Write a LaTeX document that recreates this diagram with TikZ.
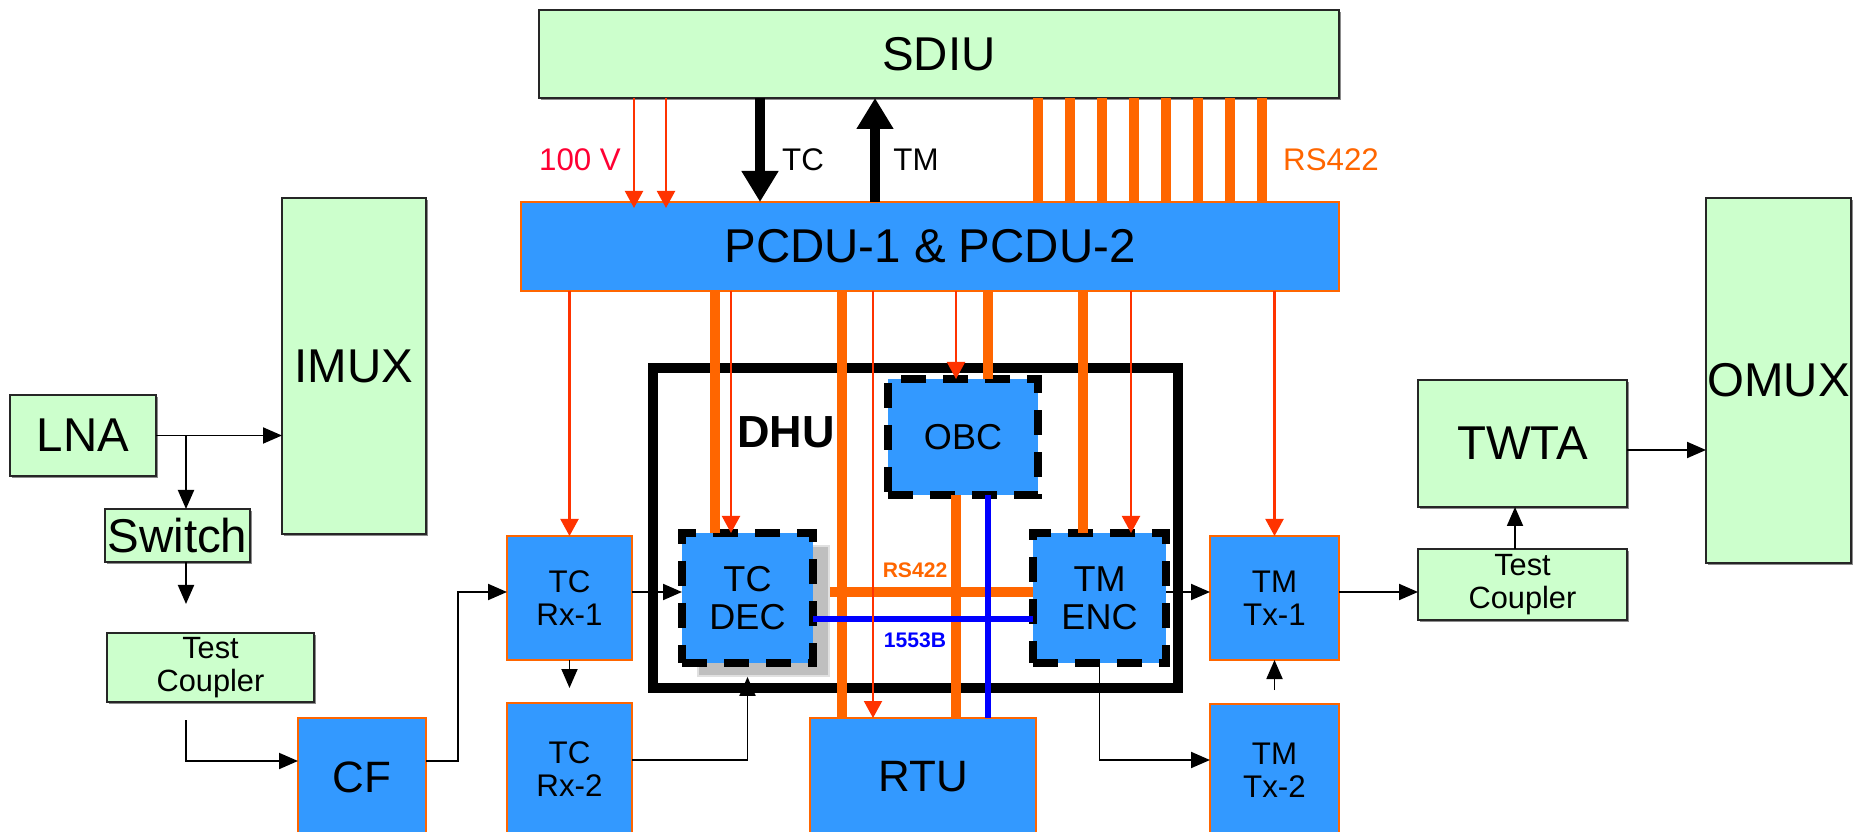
\documentclass[tikz,border=0pt]{standalone}
\usepackage{fontspec}
\setmainfont{Liberation Sans}
\definecolor{scgreen}{RGB}{204,255,204}
\definecolor{scblue}{RGB}{51,153,255}
\definecolor{scorange}{RGB}{255,102,0}
\definecolor{scred}{RGB}{255,51,0}
\definecolor{sccrimson}{RGB}{255,0,51}
\definecolor{scbus}{RGB}{0,0,255}
\usetikzlibrary{arrows.meta,positioning,calc,shadows}

\tikzset{
  gunit/.style={draw=black!85,line width=1pt,fill=scgreen,inner sep=0pt,outer sep=0pt,align=center,
    drop shadow={shadow xshift=1.4pt,shadow yshift=-1.4pt,fill=black!45,opacity=1}},
  bunit/.style={draw=scorange,line width=1pt,fill=scblue,inner sep=0pt,outer sep=0pt,align=center},
  dunit/.style={draw=black,line width=4pt,dash pattern=on 0.5cm off 0.34cm,fill=scblue,
    inner sep=0pt,outer sep=0pt,align=center},
  pwr/.style={draw=scred,line width=1.2pt,-{Triangle[length=0.34cm,width=0.36cm]}},
  sig/.style={draw=black,line width=1.1pt,-{Triangle[length=0.38cm,width=0.32cm]}},
  cmd/.style={draw=black,line width=0.2cm,-{Triangle[length=0.62cm,width=0.7cm]}},
  rsbus/.style={draw=scorange,line width=0.21cm},
  milbus/.style={draw=scbus,line width=0.12cm},
  fbig/.style={font=\fontsize{27}{30}\selectfont},
  fmed/.style={font=\fontsize{25}{28}\selectfont},
  fmid/.style={font=\fontsize{20.5}{21.8}\selectfont},
  fsmall/.style={font=\fontsize{17.8}{18.8}\selectfont},
  ftiny/.style={font=\fontsize{12}{14}\selectfont\bfseries},
}

\begin{document}
\begin{tikzpicture}
  \useasboundingbox (0,0) rectangle (37.32,16.62);
  \clip (0,0) rectangle (37.32,16.62);

  % data handling unit frame
  \node[draw=black,line width=0.21cm,minimum width=10.5cm,minimum height=6.4cm,inner sep=0pt]
        (dhu) at (18.31,6.06) {};
  \node[font=\fontsize{25.6}{28}\selectfont\bfseries] (dhulabel) at (15.72,7.98) {DHU};

  % green units
  \node[gunit,minimum width=16cm,minimum height=1.76cm,fbig]
        (sdiu) at (18.78,15.54) {SDIU};
  \node[gunit,minimum width=2.88cm,minimum height=6.72cm,fbig]
        (imux) at (7.08,9.30) {IMUX};
  \node[gunit,minimum width=2.92cm,minimum height=1.62cm,fbig]
        (lna) at (1.66,7.91) {LNA};
  \node[gunit,minimum width=2.90cm,minimum height=1.06cm,fbig]
        (switch) at (3.55,5.91) {Switch};
  \node[gunit,minimum width=4.14cm,minimum height=1.38cm,font=\fontsize{17.5}{19}\selectfont]
        (rxcoupler) at (4.21,3.27) {Test\\Coupler};
  \node[gunit,minimum width=4.18cm,minimum height=2.54cm,fbig]
        (twta) at (30.45,7.75) {TWTA};
  \node[gunit,minimum width=4.18cm,minimum height=1.42cm,font=\fontsize{17.5}{19}\selectfont]
        (txcoupler) at (30.45,4.93) {Test\\Coupler};
  \node[gunit,minimum width=2.90cm,minimum height=7.30cm,fbig]
        (omux) at (35.57,9.01) {OMUX};

  % blue units
  \node[bunit,minimum width=16.36cm,minimum height=1.78cm,fbig]
        (pcdu) at (18.60,11.69) {PCDU-1 \& PCDU-2};
  \node[bunit,minimum width=2.56cm,minimum height=2.36cm,fmed]
        (cf) at (7.24,1.08) {CF};
  \node[bunit,minimum width=2.50cm,minimum height=2.48cm,fsmall]
        (tcrx1) at (11.39,4.66) {TC\\Rx-1};
  \node[bunit,minimum width=2.50cm,minimum height=2.66cm,fsmall]
        (tcrx2) at (11.39,1.23) {TC\\Rx-2};
  \node[bunit,minimum width=4.52cm,minimum height=2.36cm,fmed]
        (rtu) at (18.46,1.08) {RTU};
  \node[bunit,minimum width=2.58cm,minimum height=2.48cm,fsmall]
        (tmtx1) at (25.49,4.66) {TM\\Tx-1};
  \node[bunit,minimum width=2.58cm,minimum height=2.64cm,fsmall]
        (tmtx2) at (25.49,1.22) {TM\\Tx-2};

  % dashed units inside the DHU
  \node[draw=black!12,line width=1pt,fill=black!25,minimum width=2.62cm,minimum height=2.60cm]
        (tcdecsh) at (15.27,4.40) {};
  \node[dunit,minimum width=2.62cm,minimum height=2.60cm,fmid]
        (tcdec) at (14.95,4.66) {TC\\DEC};
  \node[dunit,minimum width=3.0cm,minimum height=2.32cm,fmid]
        (obc) at (19.26,7.88) {OBC};
  \node[dunit,minimum width=2.66cm,minimum height=2.60cm,fmid]
        (tmenc) at (21.99,4.66) {TM\\ENC};

  % labels
  \node[fsmall,text=sccrimson] (l100v) at (11.60,13.42) {100 V};
  \node[fsmall] (ltc) at (16.06,13.42) {TC};
  \node[fsmall] (ltm) at (18.32,13.42) {TM};
  \node[fsmall,text=scorange] (lrs) at (26.62,13.42) {RS422};
  \node[ftiny,text=scorange] (lrsdhu) at (18.30,5.22) {RS422};
  \node[ftiny,text=scbus] (l1553) at (18.30,3.82) {1553B};

  % SDIU to PCDU
  \foreach \dx in {1.90,2.54}
    \draw[pwr] ([xshift=\dx cm]sdiu.south west) -- ([xshift=\dx cm,yshift=-0.12cm]sdiu.south west |- pcdu.north);
  \foreach \i in {0,...,7}
    \draw[rsbus] ([xshift={(9.98+0.64*\i)*1cm}]sdiu.south west)
      -- ([xshift={(9.98+0.64*\i)*1cm}]sdiu.south west |- pcdu.north);
  \draw[cmd] ([xshift=4.42cm]sdiu.south west) -- ([xshift=4.42cm]sdiu.south west |- pcdu.north);
  \draw[cmd] ([xshift=6.72cm]sdiu.south west |- pcdu.north) -- ([xshift=6.72cm]sdiu.south west);

  % PCDU feeds
  \draw[rsbus] ([xshift=0.66cm]tcdec.north west |- pcdu.south) -- ([xshift=0.66cm]tcdec.north west);
  \draw[rsbus] ([xshift=0.64cm]rtu.north west |- pcdu.south) -- ([xshift=0.64cm]rtu.north west);
  \draw[rsbus] ([xshift=2.0cm]obc.north west |- pcdu.south) -- ([xshift=2.0cm]obc.north west);
  \draw[rsbus] ([xshift=1.0cm]tmenc.north west |- pcdu.south) -- ([xshift=1.0cm]tmenc.north west);
  \draw[rsbus] ([xshift=1.36cm]obc.south west) -- ([xshift=1.36cm]obc.south west |- rtu.north);

  % DHU buses
  \coordinate (rsy) at ([yshift=0.12cm]tcdec.east);
  \coordinate (mily) at ([yshift=-0.42cm]tcdec.east);
  \draw[rsbus] (rsy -| tcdecsh.east) -- (rsy -| tmenc.west);
  \draw[milbus] (mily) -- (mily -| tmenc.west);
  \draw[milbus] ([xshift=2.0cm]obc.south west) -- ([xshift=2.0cm]obc.south west |- rtu.north);

  \draw[pwr] (tcrx1.north |- pcdu.south) -- (tcrx1.north);
  \draw[pwr] ([xshift=0.98cm]tcdec.north west |- pcdu.south) -- ([xshift=0.98cm]tcdec.north west);
  \draw[pwr] ([xshift=1.26cm]rtu.north west |- pcdu.south) -- ([xshift=1.26cm]rtu.north west);
  \draw[pwr] ([xshift=1.36cm]obc.north west |- pcdu.south) -- ([xshift=1.36cm]obc.north west);
  \draw[pwr] ([xshift=1.96cm]tmenc.north west |- pcdu.south) -- ([xshift=1.96cm]tmenc.north west);
  \draw[pwr] (tmtx1.north |- pcdu.south) -- (tmtx1.north);

  % RF and signal chain
  \draw[sig] (lna.east) -- (lna.east -| imux.west);
  \draw[sig] ([xshift=0.17cm]switch.north |- lna.east) -- ([xshift=0.17cm]switch.north);
  \draw[sig] ([xshift=0.17cm]switch.south) -- ++(0,-0.84);
  \draw[sig] ([xshift=-0.49cm,yshift=-0.36cm]rxcoupler.south) |- ([yshift=-0.86cm]cf.north west);
  \draw[sig] ([yshift=-0.86cm]cf.north east) -- ++(0.64,0) |- (rsy -| tcrx1.west);
  \draw[sig] (rsy -| tcrx1.east) -- (rsy -| tcdec.west);
  \draw[sig] (tcrx1.south) -- ++(0,-0.56);
  \draw[sig] ([yshift=-1.14cm]tcrx2.north east) -| (tcdec.south |- tcdecsh.south);
  \draw[sig] (rsy -| tmenc.east) -- (rsy -| tmtx1.west);
  \draw[sig] (tmenc.south) |- ([yshift=-1.12cm]tmtx2.north west);
  \draw[sig] ([yshift=0.28cm]tmtx2.north) -- (tmtx1.south);
  \draw[sig] (rsy -| tmtx1.east) -- (rsy -| txcoupler.west);
  \draw[sig] ([xshift=-0.15cm]txcoupler.north) -- ([xshift=-0.15cm]twta.south);
  \draw[sig] ([yshift=-0.13cm]twta.east) -- ([yshift=-0.13cm]twta.east -| omux.west);
\end{tikzpicture}
\end{document}
